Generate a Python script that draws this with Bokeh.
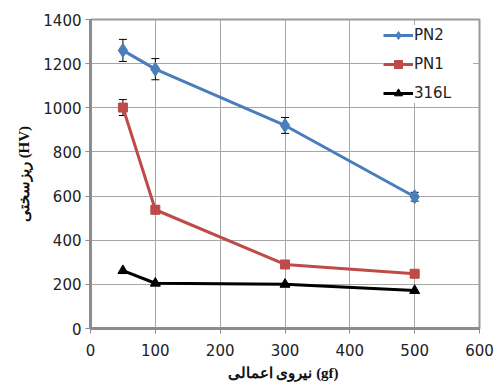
from bokeh.plotting import figure
from bokeh.models import ColumnDataSource, Whisker, Legend, LegendItem, FixedTicker, Range1d
from bokeh.embed import file_html
from bokeh.resources import INLINE

force = [50, 100, 300, 500]
pn2 = [1260, 1175, 920, 597]
pn2_err = [50, 48, 36, 20]
pn1 = [1001, 538, 290, 248]
pn1_err = [36, 18, 10, 10]
l316 = [262, 205, 200, 172]

x_ticks = [0, 100, 200, 300, 400, 500, 600]
y_ticks = [0, 200, 400, 600, 800, 1000, 1200, 1400]

p = figure(frame_width=389, frame_height=309, output_backend="svg", toolbar_location=None,
           x_range=Range1d(0, 600), y_range=Range1d(0, 1400),
           min_border_left=90, min_border_right=17, min_border_top=19, min_border_bottom=55)
p.background_fill_color = "white"
p.border_fill_color = "white"
p.outline_line_color = "#9a9a9a"
p.outline_line_width = 2

for ax in (p.xaxis, p.yaxis):
    ax.axis_line_color = "#8c8c8c"
    ax.axis_line_width = 3
    ax.major_tick_line_color = "#8c8c8c"
    ax.major_tick_line_width = 1
    ax.major_tick_out = 5
    ax.major_tick_in = 0
    ax.minor_tick_line_color = None
    ax.major_label_text_font = "DejaVu Sans"
    ax.major_label_text_font_size = "15px"
    ax.major_label_text_color = "#222222"
    ax.axis_label_text_font = "Liberation Serif"
    ax.axis_label_text_font_style = "bold"
    ax.axis_label_text_font_size = "15px"
    ax.axis_label_text_color = "#111111"

p.xaxis.ticker = FixedTicker(ticks=x_ticks)
p.yaxis.ticker = FixedTicker(ticks=y_ticks)
p.xaxis.axis_label = "نیروی اعمالی  (gf)"
p.yaxis.axis_label = "ریزسختی (HV)"
p.xaxis.major_label_standoff = 10
p.yaxis.major_label_standoff = 4
p.xaxis.axis_label_standoff = 6
p.yaxis.axis_label_standoff = 8

p.xgrid.ticker = FixedTicker(ticks=x_ticks)
p.ygrid.ticker = FixedTicker(ticks=y_ticks)
p.grid.grid_line_color = "#a6a6a6"
p.grid.grid_line_width = 1

blue = "#4a7ebb"
red = "#be4b48"
black = "#000000"

src2 = ColumnDataSource(dict(x=force, y=pn2, lo=[a - b for a, b in zip(pn2, pn2_err)],
                             hi=[a + b for a, b in zip(pn2, pn2_err)]))
src1 = ColumnDataSource(dict(x=force, y=pn1, lo=[a - b for a, b in zip(pn1, pn1_err)],
                             hi=[a + b for a, b in zip(pn1, pn1_err)]))
src3 = ColumnDataSource(dict(x=force, y=l316))

l2 = p.line("x", "y", source=src2, line_color=blue, line_width=3)
m2 = p.scatter("x", "y", source=src2, marker="diamond", size=14, fill_color=blue, line_color=blue)
l1 = p.line("x", "y", source=src1, line_color=red, line_width=3)
m1 = p.scatter("x", "y", source=src1, marker="square", size=9, fill_color=red, line_color=red)
l3 = p.line("x", "y", source=src3, line_color=black, line_width=3)
m3 = p.scatter("x", "y", source=src3, marker="triangle", size=10, fill_color=black, line_color=black)

for s in (src2, src1):
    w = Whisker(source=s, base="x", lower="lo", upper="hi", line_color="black", line_width=1)
    w.upper_head.size = 8
    w.lower_head.size = 8
    w.upper_head.line_color = "black"
    w.lower_head.line_color = "black"
    p.add_layout(w)

legend = Legend(items=[
    LegendItem(label="PN2", renderers=[l2, m2]),
    LegendItem(label="PN1", renderers=[l1, m1]),
    LegendItem(label="316L", renderers=[l3, m3]),
], location="top_right")
legend.background_fill_color = "white"
legend.background_fill_alpha = 1
legend.border_line_color = None
legend.label_text_font = "DejaVu Sans"
legend.label_text_font_size = "15px"
legend.label_text_color = "#222222"
legend.glyph_width = 30
legend.glyph_height = 20
legend.spacing = 9
legend.padding = 5
legend.margin = 6
legend.label_standoff = 1
legend.label_width = 59
p.add_layout(legend)

open("out.html", "w").write(file_html(p, INLINE))
